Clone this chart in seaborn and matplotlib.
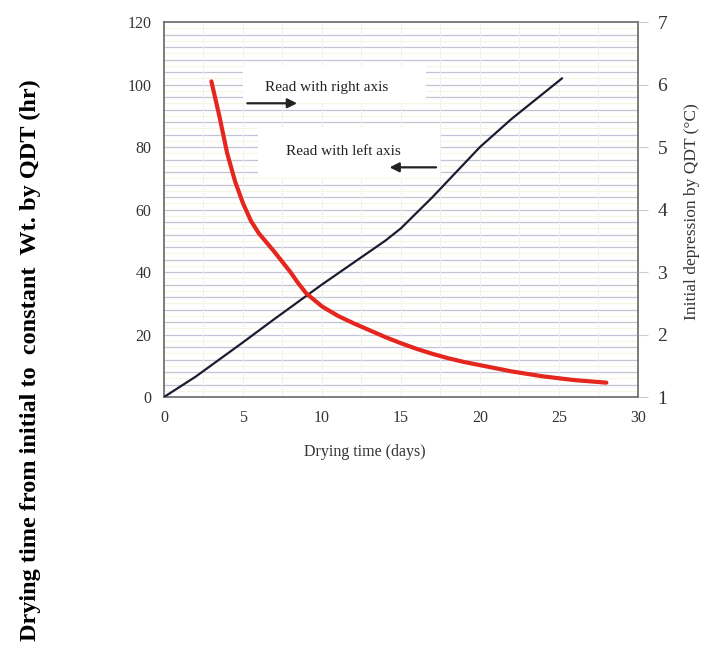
import numpy as np
import pandas as pd
import matplotlib
matplotlib.use("Agg")
import matplotlib.pyplot as plt
from matplotlib.patches import Rectangle
import seaborn as sns

# drying time to constant weight (hr) vs drying time (days) -- left axis
days_black = [0, 2, 5, 7, 10, 12, 14, 15, 17, 20, 22, 25.2]
hours_black = [0, 6.5, 17.5, 25, 36, 43, 50, 54, 64, 80, 89, 102]

# initial depression by QDT (degC) vs drying time (days) -- right axis
days_red = [3, 3.5, 4, 4.5, 5, 5.5, 6, 6.5, 7, 7.5, 8, 8.5, 9, 10, 11, 12,
            13, 14, 15, 16, 17, 18, 19, 20, 21, 22, 23, 24, 25, 26, 27, 28]
depr_red = [6.05, 5.5, 4.9, 4.45, 4.1, 3.82, 3.62, 3.47, 3.32, 3.16, 3.0,
            2.82, 2.66, 2.45, 2.3, 2.18, 2.07, 1.96, 1.86, 1.77, 1.69, 1.62,
            1.56, 1.51, 1.46, 1.41, 1.37, 1.33, 1.30, 1.27, 1.25, 1.23]

left_ticks = [0, 20, 40, 60, 80, 100, 120]
right_ticks = [1, 2, 3, 4, 5, 6, 7]
x_ticks = [0, 5, 10, 15, 20, 25, 30]

sns.set_style("white")
plt.rcParams["font.family"] = ["Liberation Serif", "DejaVu Serif"]

fig = plt.figure(figsize=(7.05, 6.5), dpi=100)
ax = fig.add_axes([0.2326, 0.3892, 0.6723, 0.5769])

# graph-paper look: grey rules every 4 h, faint yellow ones between
for y in np.arange(4, 120, 4):
    ax.axhline(y, color="#c2c4d0", lw=0.9, zorder=0)
for y in np.arange(2, 120, 4):
    ax.axhline(y, color="#f8f6e0", lw=0.8, zorder=0)
for x in np.arange(2.5, 30, 2.5):
    ax.axvline(x, color="#f0f0f0", lw=0.7, zorder=0)

# white patches behind the annotations (as in the scanned original)
ax.add_patch(Rectangle((5.0, 94), 11.6, 12, facecolor="white",
                       edgecolor="none", zorder=1))
ax.add_patch(Rectangle((5.95, 70), 11.55, 16, facecolor="white",
                       edgecolor="none", zorder=1))

df_b = pd.DataFrame({"days": days_black, "hours": hours_black})
sns.lineplot(data=df_b, x="days", y="hours", ax=ax, color="#1c1c30",
             lw=1.6, zorder=3)

ax.set_xlim(0, 30)
ax.set_ylim(0, 120)
ax.set_xticks(x_ticks)
ax.set_yticks(left_ticks)
ax.tick_params(axis="y", length=0, pad=9, labelsize=11.5, colors="#333333")
ax.tick_params(axis="x", length=0, pad=9, labelsize=11.5, colors="#333333")
ax.set_xlabel("")
ax.set_ylabel("")
for s in ax.spines.values():
    s.set_color("#666666")
    s.set_linewidth(1.2)

ax2 = ax.twinx()
df_r = pd.DataFrame({"days": days_red, "depr": depr_red})
sns.lineplot(data=df_r, x="days", y="depr", ax=ax2, color="#e5261f",
             lw=3, zorder=4)
ax2.set_ylim(1, 7)
ax2.set_yticks(right_ticks)
ax2.tick_params(axis="y", length=7, width=0.8, color="#cccccc", pad=7,
                labelsize=14, colors="#333333")
ax2.set_ylabel("")
ax2.grid(False)
for s in ax2.spines.values():
    s.set_visible(False)

ax.text(6.4, 99, "Read with right axis", fontsize=11, color="#222222",
        va="center", zorder=5)
ax.annotate("", xy=(8.6, 94), xytext=(5.1, 94),
            arrowprops=dict(arrowstyle="-|>", color="#222222", lw=1.6,
                            mutation_scale=14), zorder=5)
ax.text(7.7, 78.5, "Read with left axis", fontsize=11, color="#222222",
        va="center", zorder=5)
ax.annotate("", xy=(14.1, 73.5), xytext=(17.4, 73.5),
            arrowprops=dict(arrowstyle="-|>", color="#222222", lw=1.6,
                            mutation_scale=14), zorder=5)

fig.text(365 / 705, 1 - 452 / 650, "Drying time (days)", fontsize=11.5,
         color="#333333", ha="center", va="center")
fig.text(692 / 705, 1 - 212 / 650, "Initial depression by QDT (\u00b0C)",
         fontsize=12.5, color="#333333", rotation=90, ha="center",
         va="center")
fig.text(30 / 705, 1 - 360 / 650,
         "Drying time from initial to  constant  Wt. by QDT (hr)",
         fontsize=17.5, fontweight="bold", color="black", rotation=90,
         ha="center", va="center")

fig.savefig("out.png", dpi=100)
